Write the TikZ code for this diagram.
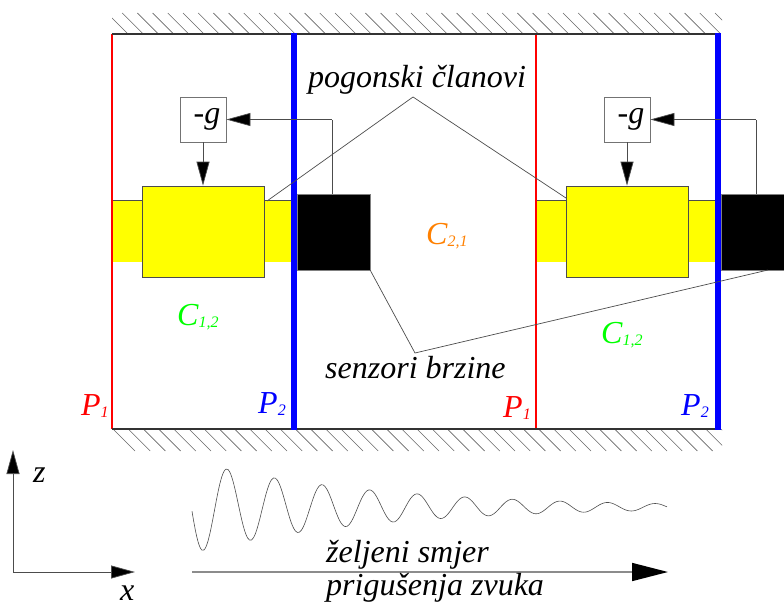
\documentclass[tikz,border=0pt]{standalone}
\usepackage{fontspec}
\setmainfont{Liberation Serif}
\usetikzlibrary{arrows.meta}
\definecolor{actyellow}{RGB}{255,255,0}
\definecolor{zonegreen}{RGB}{0,255,0}
\definecolor{zoneorange}{RGB}{255,128,0}
\definecolor{planered}{RGB}{255,0,0}
\definecolor{planeblue}{RGB}{0,0,255}
\newcommand{\sublab}[2]{#1\raisebox{-.15ex}{\fontsize{16}{16}\selectfont #2}}
\tikzset{
  wire/.style={black!70,line width=0.7pt},
  headarrow/.style={wire,-{Triangle[length=24pt,width=13pt,fill=black]}},
  bigarrow/.style={black!45,line width=1.6pt,-{Triangle[length=36pt,width=18pt,fill=black,color=black]}},
  hatch/.style={black!60,line width=0.6pt},
  wall/.style={black!80,line width=1.2pt},
  barbox/.style={fill=actyellow,draw=none,minimum width=182pt,minimum height=61pt,inner sep=0pt},
  actbox/.style={fill=actyellow,draw=black!70,line width=0.7pt,minimum width=122pt,minimum height=91pt,inner sep=0pt},
  sensbox/.style={fill=black,draw=black!50,line width=0.5pt,minimum width=73pt,minimum height=76pt,inner sep=0pt},
  gainbox/.style={fill=white,draw=black!55,line width=0.7pt,minimum width=46pt,minimum height=45pt,inner sep=0pt,font=\fontsize{32}{32}\selectfont\itshape},
  lab/.style={inner sep=0pt,anchor=base west,font=\fontsize{32}{32}\selectfont\itshape},
  redline/.style={planered,line width=1.2pt},
  blueline/.style={planeblue,line width=5.5pt}
}
\begin{document}
\begin{tikzpicture}[x=1pt,y=-1pt]
\path[use as bounding box,clip] (0,0) rectangle (784,602);
% zidovi
\begin{scope}
\clip (112,13) rectangle (722,34);
\foreach \x in {0,...,40} \draw[hatch] (107+15.2*\x,13) -- ++(21,21);
\end{scope}
\begin{scope}
\clip (112,429) rectangle (722,451);
\foreach \x in {0,...,40} \draw[hatch] (113+15.2*\x,429) -- ++(22,22);
\end{scope}
% jedinice
\foreach \n/\dx in {a/0,b/424} {
  \node[barbox] (bar\n) at (203+\dx,231.5) {};
  \draw[wire] (bar\n.north west) -- (bar\n.north east);
  \node[actbox] (act\n) at (203+\dx,231.5) {};
  \node[sensbox] (sens\n) at (333.5+\dx,232) {};
  \node[gainbox] (gain\n) at (203+\dx,119.5) {\hspace{8pt}-g};
  \coordinate (top\n) at (332+\dx,119.5);
  \coordinate (sensup\n) at (332+\dx,194);
  \draw[redline] (112+\dx,34) -- (112+\dx,429);
}
\draw[wall] (112,34) -- (720,34);
\draw[wall] (112,429) -- (720,429);
\draw[blueline] (294,33) -- (294,430);
\draw[blueline] (718,33) -- (718,430);
\foreach \n in {a,b} {
  \draw[wire] (sensup\n) -- (top\n);
  \draw[headarrow] (top\n) -- (gain\n.east);
  \draw[headarrow] (gain\n.south) -- (act\n.north);
}
% linije do tekstova
\coordinate (apex) at (413,97);
\coordinate (base) at (415,353);
\coordinate (acttip) at (267,201);
\coordinate (acttipb) at (566,198);
\coordinate (senstip) at (768,270);
\draw[wire] (acttip) -- (apex) -- (acttipb);
\draw[wire] (sensa.south east) -- (base) -- (senstip);
% tekst
\node[lab] (tpog) at (308,88) {pogonski članovi};
\node[lab] (tsen) at (325,378) {senzori brzine};
\node[lab,text=zoneorange] (c21) at (426,244) {\sublab{C}{2,1}};
\node[lab,text=zonegreen] (c12a) at (177,325) {\sublab{C}{1,2}};
\node[lab,text=zonegreen] (c12b) at (601,343) {\sublab{C}{1,2}};
\node[lab,text=planered] (p1a) at (81,415) {\sublab{P}{1}};
\node[lab,text=planeblue] (p2a) at (258,413) {\sublab{P}{2}};
\node[lab,text=planered] (p1b) at (503,417) {\sublab{P}{1}};
\node[lab,text=planeblue] (p2b) at (681,415) {\sublab{P}{2}};
% koordinatni sustav
\coordinate (orig) at (13,572);
\coordinate (zend) at (13,450);
\coordinate (xend) at (135,572);
\draw[headarrow] (orig) -- (zend);
\draw[headarrow] (orig) -- (xend);
\node[lab] (zlab) at (33,482) {z};
\node[lab] (xlab) at (120,600) {x};
% val
\draw[black!70,line width=0.6pt,domain=192:667,samples=240,smooth] plot (\x,{507-38*exp(-0.00557*(\x-227))*cos((\x-227)/47.6*360)});
% smjer
\coordinate (dirs) at (192,572);
\coordinate (dire) at (668,572);
\draw[bigarrow] (dirs) -- (dire);
\node[lab] (tdir) at (326,562) {željeni smjer};
\node[lab] (tpri) at (326,595.5) {prigušenja zvuka};
\end{tikzpicture}
\end{document}
